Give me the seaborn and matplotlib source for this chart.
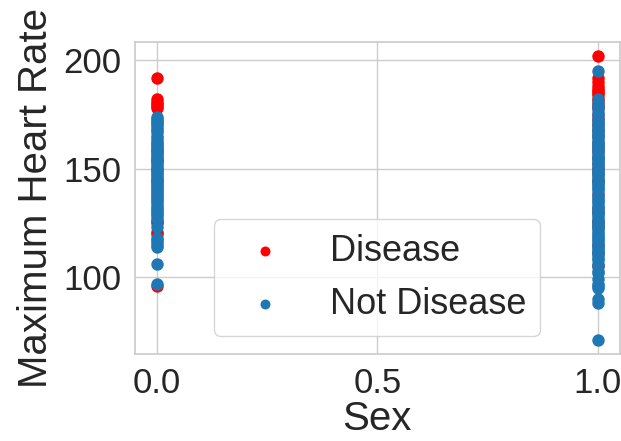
import matplotlib
matplotlib.use("Agg")
import matplotlib.pyplot as plt
import seaborn as sns
import pandas as pd

# Female (Sex = 0)
female_disease = [192, 182, 181, 180, 179, 178, 171, 162, 158, 154, 150,
                  145, 140, 139, 126, 125, 121, 120, 96]
female_not_disease = [174, 173, 172, 170, 169, 168, 167, 165, 164, 163, 161, 160,
                      159, 158, 157, 156, 155, 154, 153, 152, 151, 150, 149, 148,
                      147, 146, 145, 144, 143, 142, 141, 138, 137, 136, 135, 134,
                      133, 132, 131, 130, 129, 128, 127, 123, 118, 117, 116, 115,
                      114, 106, 97]
# Male (Sex = 1)
male_disease = [202, 192, 190, 188, 187, 186, 185, 184, 182, 181, 179, 178, 175,
                173, 170, 168, 165, 162, 160, 158, 155, 152, 150, 148, 145, 144,
                138, 132, 130, 126, 125, 123, 115, 111, 105]
male_not_disease = [195, 182, 180, 179, 178, 176, 175, 173, 172, 171, 170, 169,
                    168, 167, 166, 165, 164, 163, 162, 161, 160, 159, 158, 157,
                    156, 155, 154, 153, 152, 151, 150, 149, 148, 147, 146, 145,
                    144, 143, 142, 141, 140, 139, 137, 136, 135, 134, 133, 132,
                    131, 130, 129, 128, 127, 126, 125, 124, 123, 122, 121, 120,
                    119, 118, 117, 116, 115, 114, 113, 112, 111, 110, 109, 108,
                    106, 105, 103, 102, 99, 97, 96, 95, 90, 88, 71]

labels = ["Disease", "Not Disease"]
colors = ["red", "#1f77b4"]

sns.set_theme(style="whitegrid")
plt.rcParams["font.family"] = ["Liberation Sans", "DejaVu Sans"]

dis = pd.DataFrame({
    "Sex": [0.0] * len(female_disease) + [1.0] * len(male_disease),
    "Maximum Heart Rate": female_disease + male_disease,
})
notdis = pd.DataFrame({
    "Sex": [0.0] * len(female_not_disease) + [1.0] * len(male_not_disease),
    "Maximum Heart Rate": female_not_disease + male_not_disease,
})

fig, ax = plt.subplots(figsize=(6.21, 4.41), dpi=100)
sns.scatterplot(data=dis, x="Sex", y="Maximum Heart Rate", color=colors[0],
                label=labels[0], s=80, linewidth=0, ax=ax)
sns.scatterplot(data=notdis, x="Sex", y="Maximum Heart Rate", color=colors[1],
                label=labels[1], s=80, linewidth=0, ax=ax)

ax.set_xticks([0.0, 0.5, 1.0])
ax.set_yticks([100, 150, 200])
ax.tick_params(labelsize=25, colors=".15")
ax.set_xlabel("Sex", fontsize=29, color=".15", labelpad=0)
ax.set_ylabel("Maximum Heart Rate", fontsize=29, color=".15", labelpad=6)
ax.legend(loc="lower center", fontsize=26, markerscale=0.8)

fig.subplots_adjust(left=0.217, right=0.998, top=0.905, bottom=0.197)
fig.savefig("out.png", dpi=100)
